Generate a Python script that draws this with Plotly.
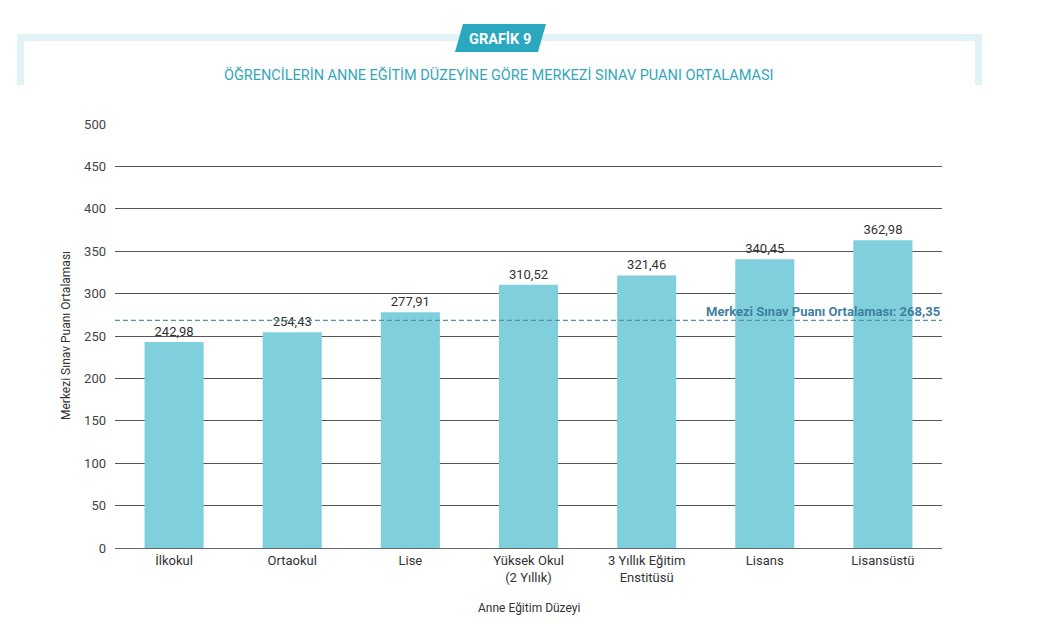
import plotly.graph_objects as go

categories = ["İlkokul", "Ortaokul", "Lise", "Yüksek Okul<br>(2 Yıllık)",
              "3 Yıllık Eğitim<br>Enstitüsü", "Lisans", "Lisansüstü"]
values = [242.98, 254.43, 277.91, 310.52, 321.46, 340.45, 362.98]
mean_value = 268.35
y_ticks = [0, 50, 100, 150, 200, 250, 300, 350, 400, 450, 500]

W, H = 1046, 624
OFF = 8  # page body margin
# plot area in screenshot pixels
SL, SR, ST, SB = 115, 942, 124, 548
L, R, T, B = SL - OFF, SR - OFF, ST - OFF, SB - OFF


def px(x):
    return (x - SL) / (SR - SL)


def py(y):
    return (SB - y) / (SB - ST)


labels = [f"{v:.2f}".replace(".", ",") for v in values]
tick_font = "Roboto, DejaVu Sans, sans-serif"

fig = go.Figure()
fig.add_trace(go.Bar(
    x=categories, y=values, text=labels, textposition="outside",
    textfont=dict(family=tick_font, size=13, color="#333333"),
    marker=dict(color="#7fd0dc", line=dict(width=0)),
    cliponaxis=False, showlegend=False,
))

shapes = []
band = "#e2f3f6"
shapes.append(dict(type="rect", xref="paper", yref="paper", x0=px(17), x1=px(982), y0=py(41), y1=py(34),
                   fillcolor=band, line=dict(width=0), layer="below"))
shapes.append(dict(type="rect", xref="paper", yref="paper", x0=px(17), x1=px(24), y0=py(85), y1=py(34),
                   fillcolor=band, line=dict(width=0), layer="below"))
shapes.append(dict(type="rect", xref="paper", yref="paper", x0=px(975), x1=px(982), y0=py(85), y1=py(34),
                   fillcolor=band, line=dict(width=0), layer="below"))
pts = [(455, 52), (463, 24), (546, 24), (538, 52)]
path = "M " + " L ".join(f"{px(a)},{py(b)}" for a, b in pts) + " Z"
shapes.append(dict(type="path", xref="paper", yref="paper", path=path,
                   fillcolor="#2aa8bf", line=dict(width=0)))
shapes.append(dict(type="line", xref="paper", yref="y", x0=0, x1=1, y0=mean_value, y1=mean_value,
                   line=dict(color="#5d8ea8", width=1.2, dash="5px,3px"), layer="above"))
fig.update_layout(shapes=shapes)

ann = []
ann.append(dict(xref="paper", yref="paper", x=px(500), y=py(39), text="<b>GRAFİK 9</b>",
                showarrow=False, font=dict(family=tick_font, size=14.5, color="white"),
                xanchor="center", yanchor="middle"))
ann.append(dict(xref="paper", yref="paper", x=px(499), y=py(75),
                text="ÖĞRENCİLERİN ANNE EĞİTİM DÜZEYİNE GÖRE MERKEZİ SINAV PUANI ORTALAMASI",
                showarrow=False, font=dict(family=tick_font, size=14.5, color="#35a6ba"),
                xanchor="center", yanchor="middle"))
ann.append(dict(xref="paper", yref="y", x=1, y=mean_value, yshift=-1,
                text=f"<b>Merkezi Sınav Puanı Ortalaması: {mean_value:.2f}</b>".replace(".", ","),
                showarrow=False, font=dict(family=tick_font, size=13, color="#3f7fa0"),
                xanchor="right", yanchor="bottom"))
ann.append(dict(xref="paper", yref="paper", x=0.5, y=py(608), text="Anne Eğitim Düzeyi",
                showarrow=False, font=dict(family=tick_font, size=12, color="#333333"),
                xanchor="center", yanchor="middle"))
ann.append(dict(xref="paper", yref="paper", x=px(66), y=0.5, text="Merkezi Sınav Puanı Ortalaması",
                showarrow=False, textangle=-90, font=dict(family=tick_font, size=12, color="#333333"),
                xanchor="center", yanchor="middle"))
fig.update_layout(annotations=ann)

fig.update_layout(
    width=W, height=H,
    margin=dict(l=L, r=W - R, t=T, b=H - B, pad=0),
    paper_bgcolor="white", plot_bgcolor="white",
    bargap=0.5,
    xaxis=dict(showgrid=False, showline=True, linecolor="#666666", linewidth=1,
               ticks="", tickfont=dict(family=tick_font, size=13, color="#333333"),
               fixedrange=True),
    yaxis=dict(range=[0, 500], tickvals=y_ticks, showgrid=True, gridcolor="#555555", gridwidth=1,
               zeroline=False, showline=False, ticks="", ticklabelstandoff=8,
               tickfont=dict(family=tick_font, size=13, color="#444444"), fixedrange=True),
)

fig.write_html("out.html")
